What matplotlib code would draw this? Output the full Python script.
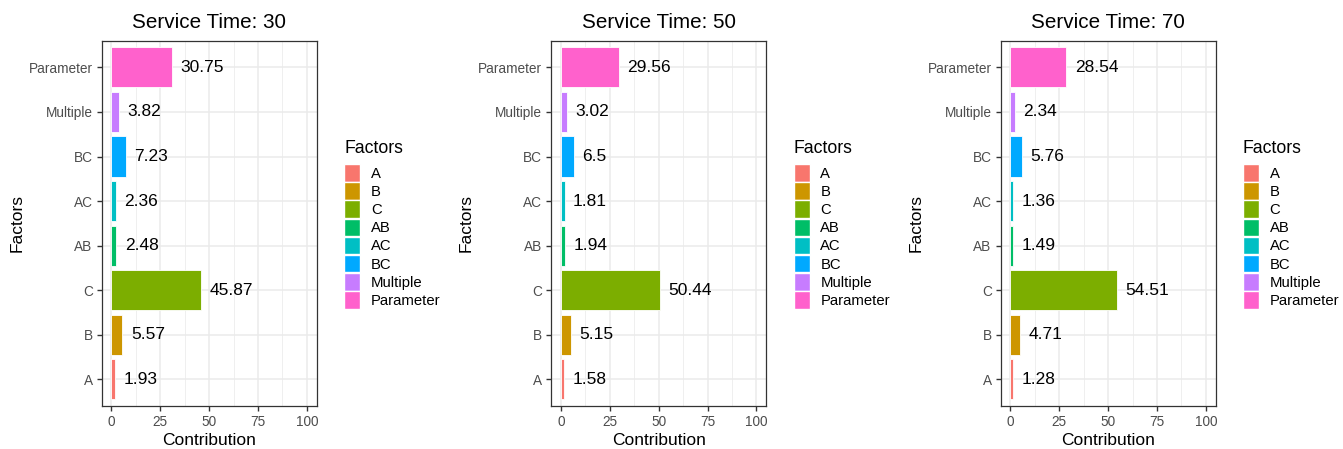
import numpy as np
import matplotlib.pyplot as plt
from matplotlib.patches import Patch

plt.rcParams['font.family'] = ['Liberation Sans', 'DejaVu Sans']

factors = ['A', 'B', 'C', 'AB', 'AC', 'BC', 'Multiple', 'Parameter']
colors = ['#F8766D', '#CD9600', '#7CAE00', '#00BE67', '#00BFC4', '#00A9FF', '#C77CFF', '#FF61CC']
service_times = [30, 50, 70]
contrib_30 = [1.93, 5.57, 45.87, 2.48, 2.36, 7.23, 3.82, 30.75]
contrib_50 = [1.58, 5.15, 50.44, 1.94, 1.81, 6.5, 3.02, 29.56]
contrib_70 = [1.28, 4.71, 54.51, 1.49, 1.36, 5.76, 2.34, 28.54]
labels_30 = ['1.93', '5.57', '45.87', '2.48', '2.36', '7.23', '3.82', '30.75']
labels_50 = ['1.58', '5.15', '50.44', '1.94', '1.81', '6.5', '3.02', '29.56']
labels_70 = ['1.28', '4.71', '54.51', '1.49', '1.36', '5.76', '2.34', '28.54']

W, H = 1343, 449
fig = plt.figure(figsize=(W / 100, H / 100), dpi=100)

panels = [(contrib_30, labels_30), (contrib_50, labels_50), (contrib_70, labels_70)]
lefts = [101.7, 551.2, 1000.7]
aw, ah, ab = 215, 365.3, 406

for st, (vals, labs), lx in zip(service_times, panels, lefts):
    ax = fig.add_axes([lx / W, (H - ab) / H, aw / W, ah / H])
    y = np.arange(len(factors))
    ax.barh(y, vals, height=0.9, color=colors, edgecolor='white', linewidth=0.6, zorder=3)
    for yi, v, t in zip(y, vals, labs):
        ax.annotate(t, (v, yi), xytext=(6.1, 0), textcoords='offset points',
                    ha='left', va='center', fontsize=12.5, color='black', zorder=4)
    ax.set_xlim(-5, 105)
    ax.set_ylim(-0.6, len(factors) - 0.4)
    ax.set_xticks([0, 25, 50, 75, 100])
    ax.set_xticks([12.5, 37.5, 62.5, 87.5], minor=True)
    ax.set_yticks(y)
    ax.set_yticklabels(factors)
    ax.grid(True, which='major', color='#EBEBEB', linewidth=1.1, zorder=0)
    ax.grid(True, which='minor', axis='x', color='#EBEBEB', linewidth=0.55, zorder=0)
    ax.set_axisbelow(True)
    ax.tick_params(which='major', length=3.5, width=1, color='#333333',
                   labelcolor='#4D4D4D', labelsize=9.8, pad=3)
    ax.tick_params(which='minor', length=0)
    for s in ax.spines.values():
        s.set_color('#333333')
        s.set_linewidth(0.9)
    ax.set_title(f'Service Time: {st}', fontsize=14.9, pad=9)
    ax.set_xlabel('Contribution', fontsize=12.5, labelpad=3)
    ax.set_ylabel('Factors', fontsize=12.5, labelpad=3.2)

    # legend: title drawn as text, keys via legend
    lgx = (344 - 101.7) / aw
    ax.text(lgx, (ab - 153) / ah, 'Factors', transform=ax.transAxes,
            fontsize=12.7, ha='left', va='baseline')
    handles = [Patch(facecolor=c, edgecolor='white', label=f) for c, f in zip(colors, factors)]
    ax.legend(handles=handles, loc='upper left', bbox_to_anchor=(lgx, (ab - 164) / ah),
              frameon=False, fontsize=10.7,
              handlelength=1.1, handleheight=1.45, labelspacing=0.035,
              handletextpad=0.7, borderpad=0, borderaxespad=0)

fig.savefig('out.png', dpi=100)
